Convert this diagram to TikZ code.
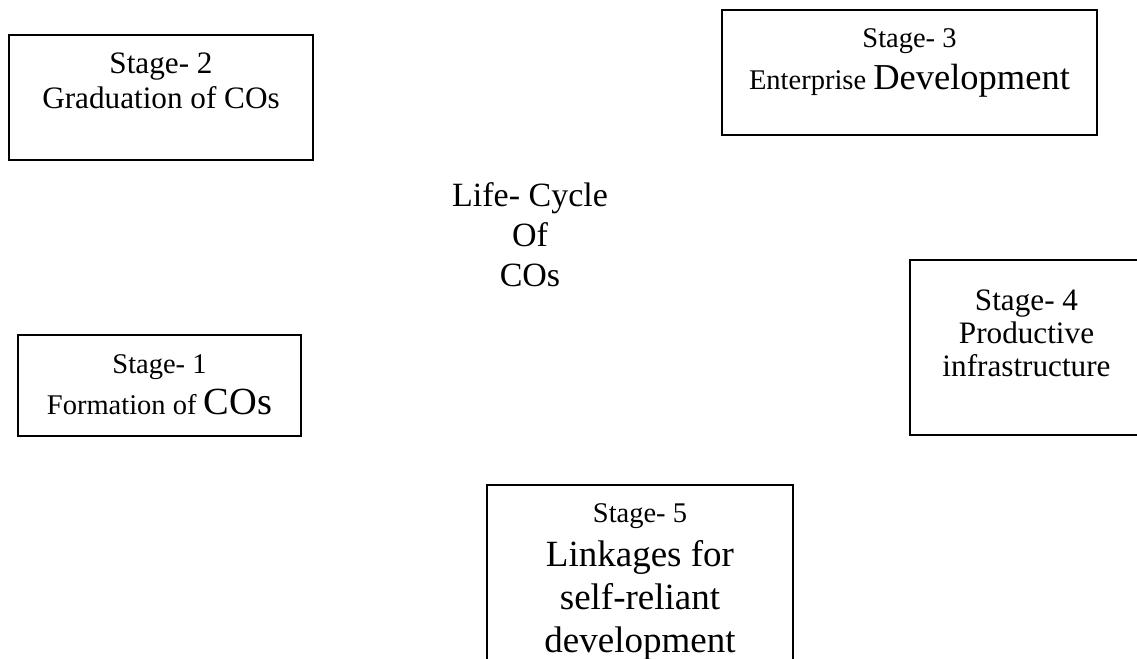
\documentclass[tikz,border=0pt]{standalone}
\usepackage{fontspec}
\setmainfont{Liberation Serif}
\usetikzlibrary{positioning}
\tikzset{
  stagebox/.style={draw, line width=0.8pt, inner sep=0pt},
  stagetext/.style={align=center, inner sep=0pt, anchor=north},
}

\begin{document}
\begin{tikzpicture}[x=0.5pt,y=-0.5pt]
\clip (0,0) rectangle (1137,659);
% the five stages
\node[stagebox, minimum width=152pt, minimum height=62.5pt] (stage2) at (161,97.5) {};
\node[stagebox, minimum width=187.5pt, minimum height=62.5pt] (stage3) at (909.5,72.5) {};
\node[stagebox, minimum width=116.5pt, minimum height=87.5pt] (stage4) at (1026.5,347.5) {};
\node[stagebox, minimum width=141.5pt, minimum height=50.5pt] (stage1) at (159.5,385.5) {};
\node[stagebox, minimum width=153pt, minimum height=110pt] (stage5) at (640,595) {};
\node[stagetext, font=\fontsize{15.6}{17.5}\selectfont, below=9.3pt of stage2.north] (stage2txt) {Stage- 2\\Graduation of COs};
\node[stagetext, font=\fontsize{14.25}{21}\selectfont, below=9.3pt of stage3.north] (stage3txt) {Stage- 3\\Enterprise {\fontsize{18.25}{21}\selectfont Development}};
\node[stagetext, font=\fontsize{15.6}{16.5}\selectfont, below=15.3pt of stage4.north] (stage4txt) {Stage- 4\\Productive\\infrastructure};
\node[stagetext, font=\fontsize{14.25}{20.5}\selectfont, below=9.8pt of stage1.north] (stage1txt) {Stage- 1\\Formation of {\fontsize{19.2}{20.5}\selectfont COs}};
\node[stagetext, font=\fontsize{18.5}{21.5}\selectfont, below=9.3pt of stage5.north] (stage5txt) {{\fontsize{14.25}{17}\selectfont Stage- 5}\\[0.5pt]Linkages for\\self-reliant\\development};
% centre title
\node[stagetext, font=\fontsize{17}{20}\selectfont] (lifecycle) at (530,181.8) {Life- Cycle\\Of\\COs};
\end{tikzpicture}
\end{document}
